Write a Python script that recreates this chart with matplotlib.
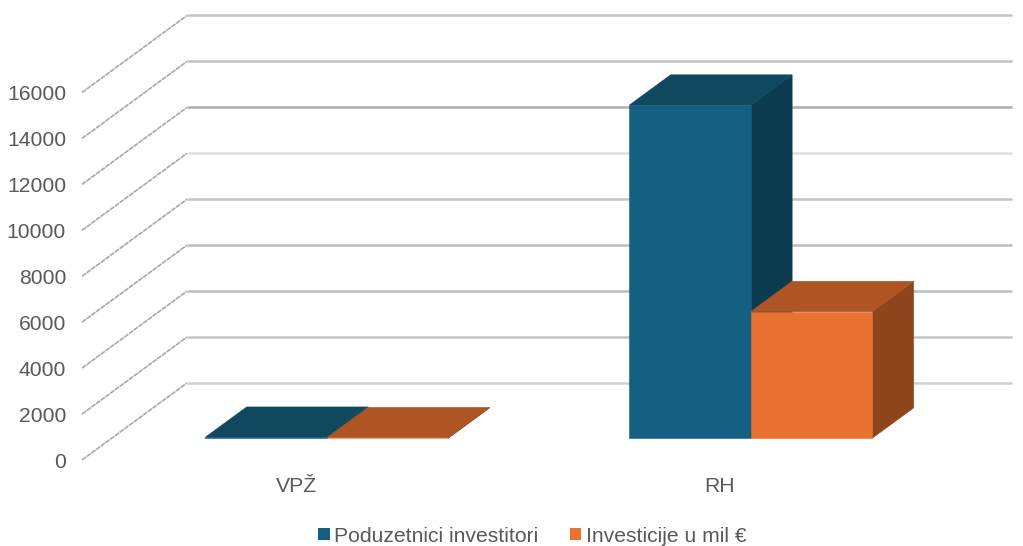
import matplotlib
matplotlib.use("Agg")
import matplotlib.pyplot as plt
from matplotlib.patches import Polygon, Patch

categories = ["VPŽ", "RH"]
series_names = ["Poduzetnici investitori", "Investicije u mil €"]
investors = [40, 14500]
investments = [20, 5510]
y_ticks = [0, 2000, 4000, 6000, 8000, 10000, 12000, 14000, 16000]
grid_colors = ["#d0d0d0", "#c4c4c4", "#bdbdbd", "#bdbdbd", "#c4c4c4", "#e0e0e0", "#adadad", "#c0c0c0", "#c4c4c4"]

W, H = 1023, 546
plt.rcParams["font.family"] = ["Liberation Sans", "DejaVu Sans"]
fig = plt.figure(figsize=(W / 100, H / 100), dpi=100, facecolor="white")

# front plane of the chart box, in pixels
L, R, T, B = 82, 907, 92.5, 460
ax = fig.add_axes([L / W, 1 - B / H, (R - L) / W, (B - T) / H])
ax.set_facecolor("none")
px_x = 424.0
px_y = (B - T) / 16000
ax.set_xlim((L - 296) / px_x, (R - 296) / px_x)
ax.set_ylim(0, 16000)
for s in ax.spines.values():
    s.set_visible(False)

depth_x = 105 / px_x
depth_y = 77 / px_y
x0, x1 = ax.get_xlim()

for v, c in zip(y_ticks, grid_colors):
    ax.plot([x0, x0 + depth_x], [v, v + depth_y], color="#a8a8a8", lw=1.2,
            ls=(0, (3, 0.5)), clip_on=False, zorder=1)
    ax.plot([x0 + depth_x, x1 + depth_x], [v + depth_y, v + depth_y], color=c, lw=1.8,
            clip_on=False, zorder=1, solid_capstyle="butt")

bar_w = 121.5 / px_x
d_front = 0.292
d_bar = 0.395
styles = [("#156082", "#10485F", "#0C3C50"), ("#E97132", "#AF5524", "#8E451B")]


def bar3d(x, value, cols, z):
    front, top, side = cols
    xf = x + d_front * depth_x
    yf = 0.282 * depth_y
    dx = d_bar * depth_x
    dy = d_bar * depth_y
    faces = [
        ([(xf + bar_w, yf), (xf + bar_w + dx, yf + dy), (xf + bar_w + dx, yf + dy + value), (xf + bar_w, yf + value)], side),
        ([(xf, yf + value), (xf + dx, yf + dy + value), (xf + bar_w + dx, yf + dy + value), (xf + bar_w, yf + value)], top),
        ([(xf, yf), (xf + bar_w, yf), (xf + bar_w, yf + value), (xf, yf + value)], front),
    ]
    for pts, col in faces:
        ax.add_patch(Polygon(pts, closed=True, facecolor=col, edgecolor=col, lw=0.4, clip_on=False, zorder=z))


for i in range(len(categories)):
    bar3d(i - bar_w, investors[i], styles[0], 3)
    bar3d(i, investments[i], styles[1], 4)

ax.set_yticks(y_ticks)
ax.set_yticklabels([str(v) for v in y_ticks])
ax.set_xticks(range(len(categories)))
ax.set_xticklabels(categories)
ax.tick_params(axis="y", length=0, pad=11.5, labelsize=15.2, labelcolor="#595959")
ax.tick_params(axis="x", length=0, pad=12, labelsize=15.2, labelcolor="#595959")

handles = [Patch(facecolor=styles[0][0], label=series_names[0]),
           Patch(facecolor=styles[1][0], label=series_names[1])]
fig.legend(handles=handles, loc="center", bbox_to_anchor=(532 / W, 1 - 536 / H), ncol=2,
           frameon=False, fontsize=15.2, labelcolor="#595959", handlelength=0.56, handleheight=0.56,
           handletextpad=0.2, columnspacing=1.5, borderpad=0, borderaxespad=0)

fig.savefig("out.png", dpi=100, facecolor="white")
